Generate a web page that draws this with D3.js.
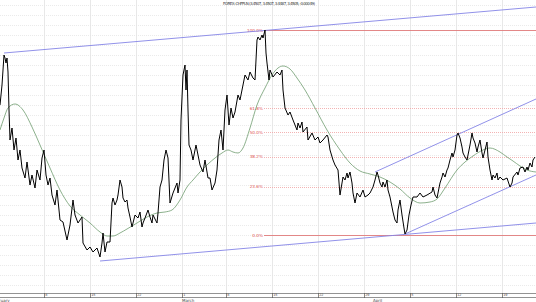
<!DOCTYPE html>
<html>
<head>
<meta charset="utf-8">
<script src="https://cdn.jsdelivr.net/npm/d3@7"></script>
<style>
  body { margin: 0; background: #fff; }
  svg { display: block; font-family: "DejaVu Sans", sans-serif; }
</style>
</head>
<body>
<svg></svg>
<script>
var width = 536;
var height = 302;

var title = "FOREX: CHFPLN (3.4507, 3.4507, 3.4487, 3.4505, -0.00049)";

// bar index / close
var priceBars = [0,0.5,1,1.5,2,2.5,3,3.5,4,4.5,5,6,7,8,9,10,11,12.5,13.5,15,16,17.5,18.5,20,21,22,23,24,25,26,27.5,28.5,30,31.5,33.5,35,36.5,37.5,39,41,41.5,43.5,45,46.5,48.5,50,51,51.5,52.5,53.5,55,56,56.5,57.5,58.5,59,60,61,61.5,62.5,63.5,64,65,66,66.5,67.5,69,70,71,71.5,72.5,74,75,76,76.5,78.5,79,80,81,82,83,84,85,86.5,88.5,89,90,90.5,91.5,92.5,93,93.5,94,94.5,95.5,96.5,98,100,101.5,102.5,104,105,106,107.5,108.5,109.5,110.5,111.5,112.5,113.5,114.5,115.5,116.5,117.5,119,120,121.5,122.5,124,125,126.5,127.5,128.5,129,130,131,131.5,132.5,133,133.5,134.5,135,136.5,138.5,140,141,141.5,142.5,144,145,146.5,147.5,148.5,149,150,151,151.5,153.5,154,156,157.5,159,160,161.5,163.5,164,165,166.5,167.5,169,170,171,171.5,172.5,173.5,174,175,176,176.5,177.5,178.5,180,181.5,182.5,184,185,186.5,187.5,188.5,189,190,191,191.5,192.5,193.5,194,195,196,196.5,197.5,198.5,199,200,201,202,202.5,203.5,204.5,205.5,206.5,208.5,210,211.5,213.5,216,216.5,217.5,218.5,220,221,221.5,222.5,223.5,224,225,226,226.5,227.5,228.5,229,230,231,231.5,232.5,233.5,234,235,236,236.5,237.5,238.5,239,240,241,241.5,242.5,243.5,244,245,246,246.5,247.5,248.5,249,250,251.5,253.5,255,256,256.5,258.5,259,260,261.5,262.5,263.5,264,265,266,266.5,267.5];
var priceValues = [3.500,3.510,3.520,3.535,3.550,3.547,3.542,3.547,3.533,3.495,3.465,3.477,3.455,3.467,3.445,3.455,3.437,3.427,3.443,3.420,3.430,3.417,3.435,3.425,3.447,3.455,3.430,3.420,3.427,3.410,3.400,3.415,3.385,3.383,3.365,3.380,3.405,3.390,3.382,3.388,3.362,3.355,3.358,3.353,3.357,3.348,3.362,3.372,3.353,3.363,3.363,3.402,3.407,3.400,3.405,3.410,3.425,3.418,3.407,3.403,3.405,3.397,3.388,3.378,3.382,3.390,3.387,3.393,3.378,3.382,3.387,3.395,3.388,3.382,3.390,3.382,3.392,3.418,3.425,3.445,3.455,3.447,3.402,3.412,3.422,3.412,3.425,3.485,3.530,3.540,3.515,3.535,3.495,3.460,3.455,3.445,3.460,3.440,3.433,3.445,3.427,3.427,3.415,3.422,3.435,3.465,3.475,3.455,3.495,3.510,3.480,3.497,3.487,3.493,3.510,3.505,3.520,3.530,3.525,3.533,3.527,3.525,3.565,3.568,3.565,3.570,3.567,3.575,3.552,3.542,3.525,3.535,3.528,3.533,3.530,3.535,3.515,3.497,3.490,3.493,3.485,3.480,3.475,3.482,3.477,3.483,3.473,3.478,3.465,3.472,3.465,3.468,3.462,3.465,3.470,3.468,3.455,3.445,3.440,3.435,3.410,3.422,3.428,3.425,3.432,3.427,3.433,3.422,3.412,3.402,3.412,3.408,3.415,3.408,3.410,3.412,3.418,3.425,3.433,3.430,3.422,3.418,3.423,3.418,3.425,3.415,3.408,3.398,3.393,3.385,3.382,3.395,3.405,3.390,3.377,3.371,3.375,3.390,3.400,3.408,3.408,3.412,3.408,3.410,3.413,3.418,3.410,3.407,3.422,3.428,3.432,3.428,3.435,3.437,3.445,3.452,3.448,3.455,3.470,3.472,3.467,3.458,3.452,3.448,3.445,3.450,3.460,3.472,3.467,3.462,3.453,3.458,3.465,3.452,3.447,3.455,3.463,3.448,3.435,3.425,3.430,3.427,3.432,3.425,3.428,3.425,3.427,3.418,3.422,3.428,3.433,3.430,3.437,3.438,3.433,3.438,3.435,3.442,3.438,3.445,3.448];

// moving average
var maBars = [0,2,4,7.5,11.5,16,20,25,30,35,40,45,50,53.5,56.5,60,63.5,68.5,73.5,78.5,82.5,86,90,93.5,96.5,100,104,107.5,111,114,116.5,119,121.5,125,128.5,132.5,136,139,141.5,145,148.5,152.5,157.5,163.5,170,175,180,185,190,195,200,205,210,215,218.5,222.5,228.5,232.5,236.5,241.5,245,250,253.5,256.5,260,263.5,268];
var maValues = [3.475,3.487,3.497,3.501,3.495,3.478,3.460,3.437,3.415,3.399,3.390,3.382,3.373,3.369,3.369,3.372,3.376,3.382,3.388,3.392,3.393,3.395,3.405,3.418,3.425,3.433,3.441,3.447,3.452,3.455,3.453,3.452,3.457,3.477,3.500,3.517,3.530,3.537,3.539,3.536,3.527,3.515,3.497,3.475,3.455,3.442,3.434,3.431,3.428,3.423,3.416,3.407,3.402,3.403,3.406,3.417,3.435,3.443,3.449,3.455,3.457,3.453,3.448,3.444,3.439,3.435,3.433];

// trend lines: [startBar, startValue, endBar, endValue]
var trendLines = [
  [2, 3.552, 268, 3.598],
  [50, 3.344, 268, 3.382],
  [187.5, 3.433, 268, 3.506],
  [202.5, 3.371, 268, 3.430]
];

// fibonacci retracement anchors
var fibStartBar = 132;
var fibHigh = 3.575;
var fibLow = 3.370;
var fibRatios = [1, 0.618, 0.5, 0.382, 0.236, 0];
var fibLabels = ["100.0%", "61.8%", "50.0%", "38.2%", "23.6%", "0.0%"];

var tickBars = [22, 45, 68, 91, 113, 136, 159, 182, 205, 228, 251];
var tickLabels = ["8", "15", "22", "1", "8", "15", "22", "29", "5", "12", "19"];
var monthBars = [-4, 91, 186.5];
var monthLabels = ["February", "March", "April"];

var x = d3.scaleLinear().domain([0, 268]).range([0, width]);
var y = d3.scaleLinear().domain([3.303, 3.605]).range([302, 0]);

var axisTop = 293;
var axisBottom = 297;

var svg = d3.select('svg')
  .attr('width', width)
  .attr('height', height);

// horizontal dotted grid
svg.append('g')
  .selectAll('line')
  .data(d3.range(3.32, 3.605, 0.01))
  .enter()
  .append('line')
    .attr('x1', 0)
    .attr('x2', width)
    .attr('y1', d => Math.round(y(d)) + 0.5)
    .attr('y2', d => Math.round(y(d)) + 0.5)
    .attr('stroke', '#dcdcdc')
    .attr('stroke-width', 0.6)
    .attr('stroke-dasharray', '1,1');

// vertical grid
svg.append('g')
  .selectAll('line')
  .data(tickBars)
  .enter()
  .append('line')
    .attr('x1', d => Math.round(x(d)) + 0.5)
    .attr('x2', d => Math.round(x(d)) + 0.5)
    .attr('y1', 0)
    .attr('y2', axisTop)
    .attr('stroke', '#e2e2e2')
    .attr('stroke-width', 0.8);

// title
svg.append('text')
  .attr('x', 269)
  .attr('y', 5)
  .attr('text-anchor', 'middle')
  .attr('font-size', 4)
  .attr('textLength', 92)
  .attr('fill', '#333')
  .text(title);

// fibonacci levels
var fib = svg.append('g');
fibRatios.forEach(function(r, i){
  var v = fibLow + r * (fibHigh - fibLow);
  var solid = (r === 0 || r === 1);
  fib.append('line')
    .attr('x1', x(fibStartBar))
    .attr('x2', width)
    .attr('y1', Math.round(y(v)) + 0.5)
    .attr('y2', Math.round(y(v)) + 0.5)
    .attr('stroke', solid ? '#e07a7a' : '#f0a0a0')
    .attr('stroke-width', solid ? 0.9 : 0.8)
    .attr('stroke-dasharray', solid ? null : '1,1');
  fib.append('text')
    .attr('x', x(fibStartBar) - 1)
    .attr('y', y(v) + 1.5)
    .attr('text-anchor', 'end')
    .attr('font-size', 4.2)
    .attr('fill', '#e05050')
    .text(fibLabels[i]);
});

// trend lines
svg.append('g')
  .selectAll('line')
  .data(trendLines)
  .enter()
  .append('line')
    .attr('x1', d => x(d[0]))
    .attr('y1', d => y(d[1]))
    .attr('x2', d => x(d[2]))
    .attr('y2', d => y(d[3]))
    .attr('stroke', '#8585e6')
    .attr('stroke-width', 0.9);

// moving average
var maLine = d3.line()
  .curve(d3.curveMonotoneX)
  .x((d, i) => x(maBars[i]))
  .y(d => y(d));

svg.append('path')
  .datum(maValues)
  .attr('fill', 'none')
  .attr('stroke', '#6f9c6f')
  .attr('stroke-width', 0.8)
  .attr('d', maLine);

// price
var priceLine = d3.line()
  .x((d, i) => x(priceBars[i]))
  .y(d => y(d));

svg.append('path')
  .datum(priceValues)
  .attr('fill', 'none')
  .attr('stroke', '#000')
  .attr('stroke-width', 1)
  .attr('stroke-linejoin', 'round')
  .attr('d', priceLine);

// bottom time axis band
var axis = svg.append('g');
axis.append('rect')
  .attr('x', 0)
  .attr('y', axisTop)
  .attr('width', width)
  .attr('height', axisBottom - axisTop)
  .attr('fill', '#fff');
[axisTop, axisBottom].forEach(function(v){
  axis.append('line')
    .attr('x1', 0).attr('x2', width)
    .attr('y1', v + 0.5).attr('y2', v + 0.5)
    .attr('stroke', '#777')
    .attr('stroke-width', 0.8);
});

axis.selectAll('.tick')
  .data(tickBars)
  .enter()
  .append('line')
    .classed('tick', true)
    .attr('x1', d => Math.round(x(d)) + 0.5)
    .attr('x2', d => Math.round(x(d)) + 0.5)
    .attr('y1', axisTop)
    .attr('y2', axisBottom + 1)
    .attr('stroke', '#555')
    .attr('stroke-width', 0.7);

axis.selectAll('.ticklabel')
  .data(tickBars)
  .enter()
  .append('text')
    .classed('ticklabel', true)
    .attr('x', d => x(d) + 1.2)
    .attr('y', axisBottom - 0.6)
    .attr('font-size', 3.4)
    .attr('fill', '#444')
    .text((d, i) => tickLabels[i]);

axis.selectAll('.month')
  .data(monthBars)
  .enter()
  .append('text')
    .classed('month', true)
    .attr('x', d => x(d))
    .attr('y', 301.5)
    .attr('font-size', 4)
    .attr('fill', '#444')
    .text((d, i) => monthLabels[i]);
</script>
</body>
</html>
